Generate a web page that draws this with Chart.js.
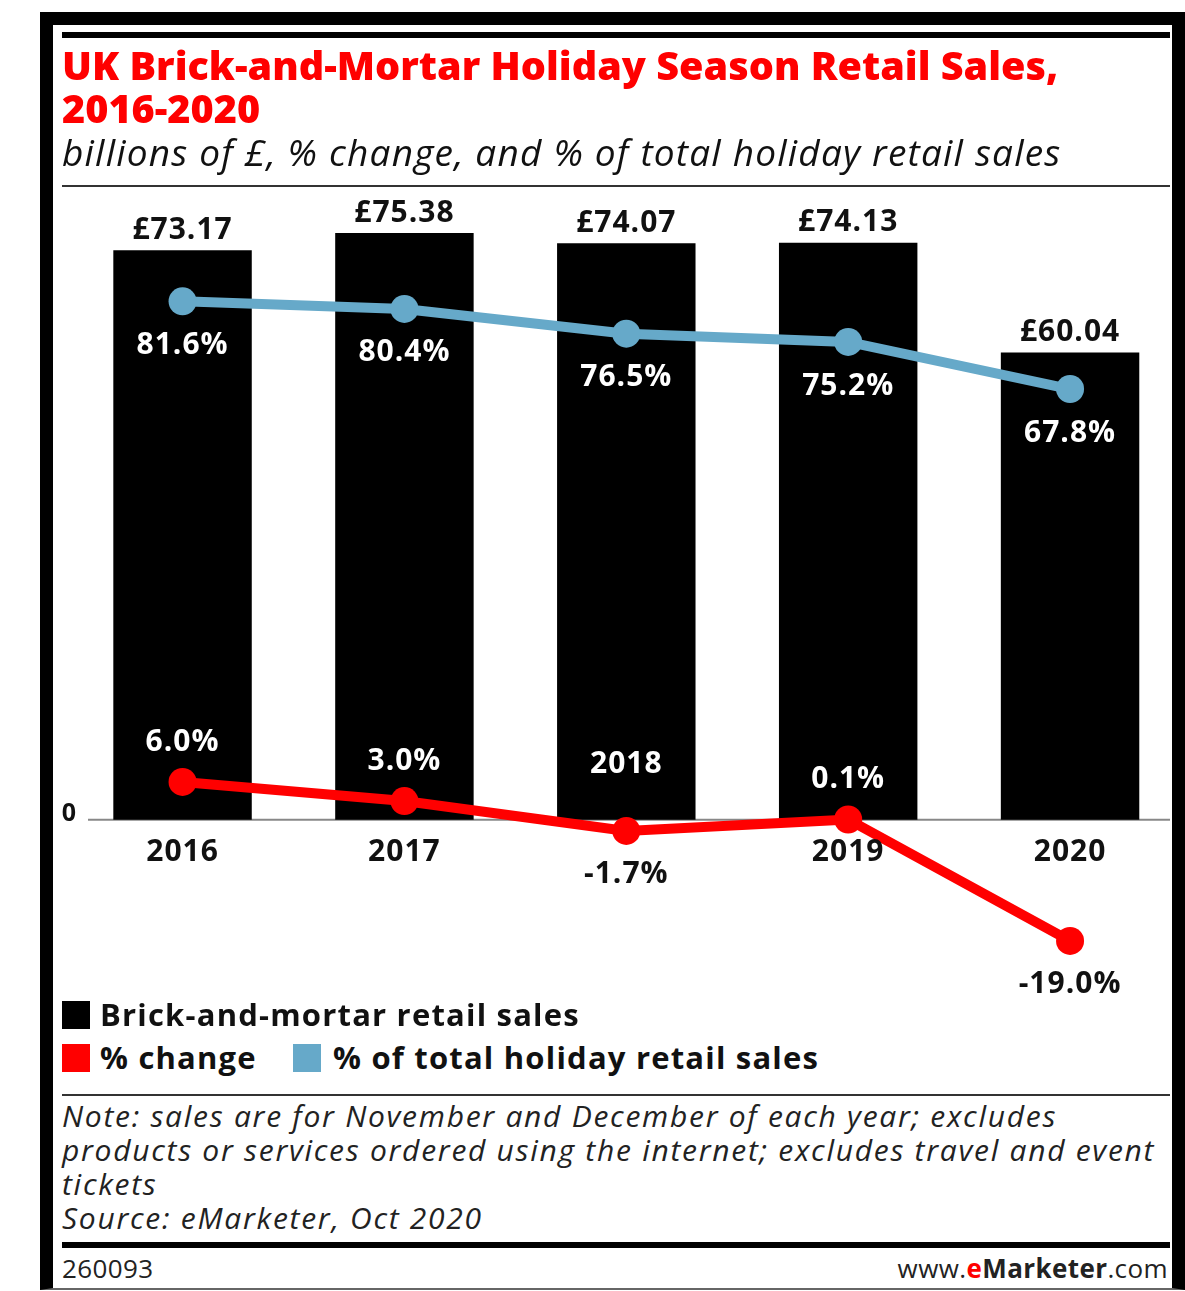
<!DOCTYPE html>
<html>
<head>
<meta charset="utf-8">
<script src="https://cdn.jsdelivr.net/npm/chart.js@4.4.1/dist/chart.umd.min.js"></script>
<style>
  body { margin: 0; background: #fff; width: 1185px; height: 1291px; position: relative; overflow: hidden; font-family: 'Open Sans', sans-serif; }
  .abs { position: absolute; white-space: nowrap; }
  #chart { position: absolute; left: 0; top: 0; }
  #frame { position: absolute; left: 40px; top: 12px; width: 1119px; height: 1263px; border-left: 13px solid #000; border-top: 13px solid #000; border-right: 13px solid #000; border-bottom: 2px solid #666; }
  .rule { position: absolute; left: 62px; width: 1108px; background: #000; }
  .title { left: 62px; top: 44px; color: #f00; font-family: 'Open Sans', sans-serif; font-weight: 800; font-size: 39.6px; line-height: 43px; }
  .sub { left: 62px; top: 132px; font-style: italic; font-size: 37px; letter-spacing: 1.2px; line-height: 40px; color: #111; }
  .leg { font-weight: bold; font-size: 31px; letter-spacing: 1.2px; line-height: 36px; color: #111; }
  .sw { position: absolute; width: 28px; height: 28px; }
  .note { left: 62px; top: 1099px; font-style: italic; font-size: 30px; letter-spacing: 1.72px; line-height: 34px; color: #222; }
  .foot { font-size: 26px; letter-spacing: 0.4px; line-height: 30px; color: #222; }
</style>
</head>
<body>
<canvas id="chart" width="1195" height="1000"></canvas>

<div class="rule" style="top:32px;height:6px"></div>
<div class="abs title">UK Brick-and-Mortar Holiday Season Retail Sales,<br>2016-2020</div>
<div class="abs sub">billions of £, % change, and % of total holiday retail sales</div>
<div class="rule" style="top:185px;height:2px;background:#333"></div>

<div class="sw" style="left:62px;top:1001px;background:#000"></div>
<div class="abs leg" style="left:100px;top:996px">Brick-and-mortar retail sales</div>
<div class="sw" style="left:62px;top:1044px;background:#f00"></div>
<div class="abs leg" style="left:100px;top:1039px">% change</div>
<div class="sw" style="left:293px;top:1044px;background:#66a9c9"></div>
<div class="abs leg" style="left:333px;top:1039px">% of total holiday retail sales</div>

<div class="rule" style="top:1094px;height:2px;background:#333"></div>
<div class="abs note">Note: sales are for November and December of each year; excludes<br>products or services ordered using the internet; excludes travel and event<br>tickets<br>Source: eMarketer, Oct 2020</div>
<div class="rule" style="top:1242px;height:6px"></div>
<div class="abs foot" style="left:62px;top:1253px">260093</div>
<div class="abs foot" style="right:17px;top:1253px">www.<b style="color:#f00">e</b><b>Marketer</b>.com</div>

<div id="frame"></div>

<script>
const years = ['2016', '2017', '2018', '2019', '2020'];
const sales = [73.17, 75.38, 74.07, 74.13, 60.04];          // billions of £
const pctChange = [6.0, 3.0, -1.7, 0.1, -19.0];              // % change
const pctTotal = [81.6, 80.4, 76.5, 75.2, 67.8];             // % of total holiday retail sales

const RED = '#ff0000';
const BLUE = '#66a9c9';
const LABEL_FONT = 'bold 30px "Open Sans", sans-serif';

function text(ctx, str, x, y, color) {
  ctx.fillStyle = color;
  ctx.fillText(str, x, y);
}

const labelPlugin = {
  id: 'labels',
  beforeDatasetsDraw(chart) {
    const ctx = chart.ctx;
    const zero = chart.scales.y.getPixelForValue(0);
    ctx.save();
    ctx.strokeStyle = '#888';
    ctx.lineWidth = 2;
    ctx.beginPath();
    ctx.moveTo(88, zero);
    ctx.lineTo(1170, zero);
    ctx.stroke();
    ctx.font = 'bold 25px "Open Sans", sans-serif';
    ctx.textAlign = 'center';
    ctx.textBaseline = 'middle';
    text(ctx, '0', 69, zero - 6, '#111');
    ctx.restore();
  },
  afterDatasetsDraw(chart) {
    const ctx = chart.ctx;
    const zero = chart.scales.y.getPixelForValue(0);
    const bars = chart.getDatasetMeta(0).data;
    const change = chart.getDatasetMeta(1).data;
    const total = chart.getDatasetMeta(2).data;
    ctx.save();
    ctx.font = LABEL_FONT;
    ctx.letterSpacing = '1px';
    ctx.textAlign = 'center';
    ctx.textBaseline = 'middle';

    bars.forEach((b, i) => {
      text(ctx, '£' + sales[i].toFixed(2), b.x, b.y - 20, '#111');
    });

    total.forEach((p, i) => {
      text(ctx, pctTotal[i].toFixed(1) + '%', p.x, p.y + 44, '#fff');
    });

    const yearY = zero + 33;
    change.forEach((p, i) => {
      const v = pctChange[i];
      let ly, col;
      if (v >= 0) { ly = p.y - 40; col = '#fff'; }
      else { ly = p.y + 44; col = '#111'; }
      text(ctx, v.toFixed(1) + '%', p.x, ly, col);
      // year label goes inside the bar when the change label sits under the axis
      if (v < 0 && Math.abs(ly - yearY) < 30) {
        text(ctx, years[i], p.x, zero - 55, '#fff');
      } else {
        text(ctx, years[i], p.x, yearY, '#111');
      }
    });
    ctx.restore();
  }
};

const ctx = document.getElementById('chart').getContext('2d');
const chart = new Chart(ctx, {
  data: {
    labels: years,
    datasets: [
      {
        type: 'bar',
        label: 'Brick-and-mortar retail sales',
        data: sales,
        backgroundColor: '#000',
        categoryPercentage: 1,
        barPercentage: 0.624,
        yAxisID: 'y',
        order: 3
      },
      {
        type: 'line',
        label: '% change',
        data: pctChange,
        borderColor: RED,
        backgroundColor: RED,
        borderWidth: 10,
        pointRadius: 14,
        pointBorderWidth: 0,
        tension: 0,
        clip: false,
        yAxisID: 'pct',
        order: 1
      },
      {
        type: 'line',
        label: '% of total holiday retail sales',
        data: pctTotal,
        borderColor: BLUE,
        backgroundColor: BLUE,
        borderWidth: 10,
        pointRadius: 14,
        pointBorderWidth: 0,
        tension: 0,
        clip: false,
        yAxisID: 'pct',
        order: 2
      }
    ]
  },
  options: {
    responsive: false,
    animation: false,
    events: [],
    layout: { padding: { top: 197, bottom: 40, left: 71.6, right: 8.4 } },
    plugins: { legend: { display: false }, tooltip: { enabled: false } },
    scales: {
      x: { display: false, offset: true },
      y: { display: false, min: -18, max: 80 },
      pct: { display: false, min: -22, max: 98 }
    }
  },
  plugins: [labelPlugin]
});
</script>
</body>
</html>
